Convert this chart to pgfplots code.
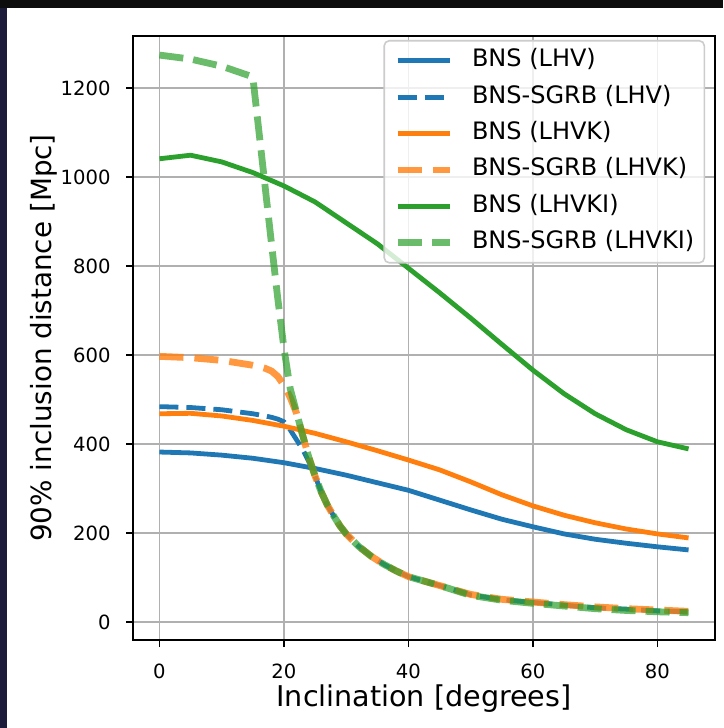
\documentclass[border=0pt]{standalone}
\usepackage{pgfplots}
\pgfplotsset{compat=1.18}
\usepackage{fontspec}
\setmainfont{DejaVu Sans}
\definecolor{mplblue}{HTML}{1F77B4}
\definecolor{mplorange}{HTML}{FF7F0E}
\definecolor{mplgreen}{HTML}{2CA02C}
\definecolor{gridgray}{HTML}{B0B0B0}
\definecolor{legframe}{HTML}{CCCCCC}
\definecolor{navyband}{HTML}{1C1C3A}

\begin{document}
\begin{tikzpicture}
\useasboundingbox (0pt,0pt) rectangle (361.5pt,364pt);
\fill[white] (0pt,0pt) rectangle (361.5pt,364pt);
\fill[navyband] (0pt,0pt) rectangle (3.6pt,364pt);
\fill[black!95] (0pt,360pt) rectangle (361.5pt,364pt);
\begin{axis}[
  at={(66.5pt,44pt)}, anchor=south west,
  scale only axis, width=291pt, height=302pt,
  xmin=-4.25, xmax=89.25, ymin=-40.4, ymax=1316.9,
  xtick={0,20,40,60,80}, ytick={0,200,400,600,800,1000,1200},
  xtick pos=left, ytick pos=left,
  tick align=outside, major tick length=3.5pt,
  every tick/.style={black, line width=0.8pt},
  axis line style={black, line width=0.8pt},
  grid=major,
  major grid style={gridgray, line width=0.8pt},
  /pgf/number format/assume math mode=true,
  /pgf/number format/1000 sep={},
  ticklabel style={font=\fontsize{9.8}{11}\selectfont},
  yticklabel style={anchor=east, inner sep=0pt, xshift=-7.5pt},
  xticklabel style={anchor=north, inner sep=0pt, yshift=-8.5pt},
  xlabel={Inclination [degrees]},
  ylabel={90\% inclusion distance [Mpc]},
  xlabel style={font=\fontsize{14.3}{16}\selectfont, at={(axis description cs:0.5,-0.1093)}, anchor=base},
  ylabel style={font=\fontsize{13.9}{16}\selectfont, at={(axis description cs:-0.1392,0.5)}, anchor=base},
  legend cell align=left,
  legend image code/.code={\draw[#1] (0pt,0pt) -- (26pt,0pt);},
  legend style={at={(axis description cs:0.983,0.9934)}, anchor=north east,
    draw=legframe, line width=0.8pt, fill=white, fill opacity=0.8, text opacity=1,
    rounded corners=2.5pt, inner xsep=5pt, inner ysep=4pt,
    font=\fontsize{12}{14}\selectfont, row sep=6.2pt, column sep=9.5pt,
    nodes={inner sep=0pt, text height=9pt, text depth=3pt}},
]
\addplot[mplblue, line width=2.4pt, line join=round] coordinates {
(0,382) (5,380) (10,375) (15,368) (20,358) (25,345) (30,330) (35,313) (40,296)
(45,274) (50,252) (55,231) (60,214) (65,198) (70,186) (75,177) (80,169) (85,162)};
\addlegendentry{BNS (LHV)}
\addplot[mplblue, line width=2.4pt, line join=round, dash pattern=on 9.5pt off 4pt] coordinates {
(0,484) (5,482) (10,477) (15,468) (17,463) (18,460) (19,456) (20,450) (21,432) (22,410)
(23,388) (24,360) (25,328) (26,292) (27,262) (28,238) (29,216) (30,198) (32,170) (34,148)
(36,130) (38,115) (40,102) (45,82) (50,61) (55,50) (60,44) (65,38) (70,32) (75,29) (80,25) (85,23)};
\addlegendentry{BNS-SGRB (LHV)}
\addplot[mplorange, line width=2.4pt, line join=round] coordinates {
(0,468) (5,469) (10,463) (15,453) (20,440) (25,424) (30,405) (35,385) (40,364)
(45,342) (50,315) (55,286) (60,261) (65,240) (70,223) (75,209) (80,198) (85,189)};
\addlegendentry{BNS (LHVK)}
\addplot[mplorange, draw opacity=0.8, line width=3.4pt, line join=round, dash pattern=on 12pt off 5.5pt] coordinates {
(0,597) (5,594) (10,588) (15,577) (16,574) (17,570) (18,564) (19,552) (20,532) (21,505)
(22,470) (23,420) (24,370) (25,328) (26,292) (27,262) (28,238) (29,216) (30,198) (32,170)
(34,148) (36,130) (38,115) (40,102) (45,82) (50,62) (55,51) (60,45) (65,39) (70,34) (75,30) (80,27) (85,24)};
\addlegendentry{BNS-SGRB (LHVK)}
\addplot[mplgreen, line width=2.4pt, line join=round] coordinates {
(0,1041) (5,1049) (10,1034) (15,1010) (20,980) (25,944) (30,897) (35,850) (40,795)
(45,740) (50,683) (55,624) (60,566) (65,513) (70,468) (75,432) (80,405) (85,389)};
\addlegendentry{BNS (LHVKI)}
\addplot[mplgreen, draw opacity=0.7, line width=3.4pt, line join=round, dash pattern=on 12pt off 5pt] coordinates {
(0,1274) (5,1265) (10,1249) (15,1225) (16,1100) (17,975) (18,850) (19,728) (20,615) (21,525)
(22,472) (23,420) (24,370) (25,328) (26,292) (27,262) (28,238) (29,216) (30,198) (32,170)
(34,148) (36,130) (38,115) (40,102) (45,82) (50,60) (55,49) (60,42) (65,36) (70,30) (75,26) (80,23) (85,21)};
\addlegendentry{BNS-SGRB (LHVKI)}
\end{axis}
\end{tikzpicture}
\end{document}
